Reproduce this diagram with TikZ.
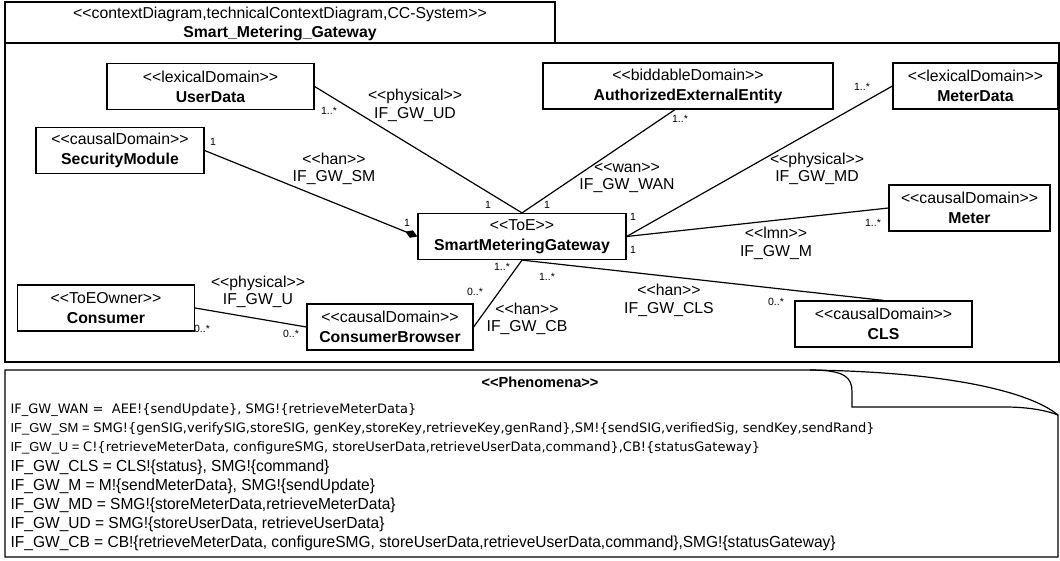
\documentclass[tikz,border=0pt]{standalone}
\usepackage{fontspec}
\setmainfont{Liberation Sans}
\newfontfamily\lucida{DejaVu Sans}
\newfontfamily\narrow[FakeStretch=0.97]{Liberation Sans}
\usetikzlibrary{arrows.meta}
% stereotype brackets, kept apart from the << >> ligature
\newcommand{\stereo}[1]{<\kern0pt<#1>\kern0pt>}

\begin{document}
\begin{tikzpicture}[x=1pt,y=-1pt,line width=1.2pt]
  \useasboundingbox (0,0) rectangle (1060,560);

  % diagram frame and its title
  \draw (5,43) rectangle (1059,362);
  \draw (5,2) rectangle (555,43);
  \node[align=center, font=\fontsize{15.8}{18.5}\selectfont] (title) at (280,24)
    {\stereo{contextDiagram,technicalContextDiagram,CC-System}\\ \textbf{Smart\_Metering\_Gateway}};

  \begin{scope}[every node/.style={draw, align=center, inner sep=0pt, minimum height=46,
      font=\fontsize{15.8}{20}\selectfont}]
    \node[minimum width=207] (ud)    at (210.5,86.5) {\stereo{lexicalDomain}\\ \textbf{UserData}};
    \node[minimum width=290] (aee)   at (688,86)     {\stereo{biddableDomain}\\ \textbf{AuthorizedExternalEntity}};
    \node[minimum width=165] (md)    at (975.5,86)   {\stereo{lexicalDomain}\\ \textbf{MeterData}};
    \node[minimum width=168] (sm)    at (120,150.5)  {\stereo{causalDomain}\\ \textbf{SecurityModule}};
    \node[minimum width=208] (smg)   at (522,236.5)  {\stereo{ToE}\\ \textbf{SmartMeteringGateway}};
    \node[minimum width=161] (meter) at (969.5,208)  {\stereo{causalDomain}\\ \textbf{Meter}};
    \node[minimum width=177] (cons)  at (106,308)    {\stereo{ToEOwner}\\ \textbf{Consumer}};
    \node[minimum width=166] (cb)    at (390,327)    {\stereo{causalDomain}\\ \textbf{ConsumerBrowser}};
    \node[minimum width=177] (cls)   at (883.5,324)  {\stereo{causalDomain}\\ \textbf{CLS}};
  \end{scope}

  % interfaces
  \draw (ud.east) -- (smg.north);
  \draw ([xshift=-13]aee.south) -- (smg.north);
  \draw (md.west) -- (smg.east);
  \draw (meter.west) -- (smg.east);
  \draw[-{Diamond[length=13pt,width=8pt]}] (sm.east) -- (smg.west);
  \draw (cb.east) -- (smg.south);
  \draw (smg.south) -- (cls.north);
  \draw (cons.east) -- (cb.west);

  \begin{scope}[every node/.style={align=center, font=\fontsize{15.8}{17.5}\selectfont}]
    \node (lud)  at (415,105.5) {\stereo{physical}\\IF\_GW\_UD};
    \node (lsm)  at (334,169)   {\stereo{han}\\IF\_GW\_SM};
    \node (lwan) at (627,178)   {\stereo{wan}\\IF\_GW\_WAN};
    \node (lmd)  at (817,169)   {\stereo{physical}\\IF\_GW\_MD};
    \node (lm)   at (776,243.5) {\stereo{lmn}\\IF\_GW\_M};
    \node (lu)   at (258,292)   {\stereo{physical}\\IF\_GW\_U};
    \node (lcb)  at (527,319)   {\stereo{han}\\IF\_GW\_CB};
    \node (lcls) at (669,300.5) {\stereo{han}\\IF\_GW\_CLS};
  \end{scope}

  % multiplicities
  \begin{scope}[every node/.style={font=\fontsize{10.5}{12}\selectfont, inner sep=0pt}]
    \node (m1)  at (329,111) {1..*};
    \node (m2)  at (488,205) {1};
    \node (m3)  at (547,205) {1};
    \node (m4)  at (680,119) {1..*};
    \node (m5)  at (862,87)  {1..*};
    \node (m6)  at (633,217) {1};
    \node (m7)  at (633,250) {1};
    \node (m8)  at (873,223) {1..*};
    \node (m9)  at (213,142) {1};
    \node (m10) at (407,223) {1};
    \node (m11) at (502,267) {1..*};
    \node (m12) at (475,292) {0..*};
    \node (m13) at (547,277) {1..*};
    \node (m14) at (776,302) {0..*};
    \node (m15) at (202,329) {0..*};
    \node (m16) at (291,334) {0..*};
  \end{scope}

  % phenomena note
  \draw (5,370) -- (810,370) .. controls (950,372) and (1030,392) .. (1058,415)
    -- (1058,557) -- (5,557) -- cycle;
  \draw (810,370) .. controls (846,370) and (852,378) .. (852,392) -- (852,407)
    -- (1005,407) .. controls (1030,407) and (1048,411) .. (1058,415);
  \node[font=\fontsize{14.6}{16}\selectfont\bfseries] (phen) at (540,382) {\stereo{Phenomena}};

  \begin{scope}[every node/.style={anchor=west, inner sep=0pt, font=\fontsize{13}{15}\selectfont}]
    \node (p1) at (10,410) {\lucida IF\_GW\_WAN =~~AEE!\{sendUpdate\}, SMG!\{retrieveMeterData\}};
    \node (p2) at (10,429) {IF\_GW\_SM = {\lucida SMG!\{genSIG,verifySIG,storeSIG, genKey,storeKey,retrieveKey,genRand\},SM!\{sendSIG,verifiedSig, sendKey,sendRand\}}};
    \node (p3) at (10,448) {IF\_GW\_U = {\lucida C!\{retrieveMeterData, configureSMG, storeUserData,retrieveUserData,command\},CB!\{statusGateway\}}};
  \end{scope}
  \begin{scope}[every node/.style={anchor=west, inner sep=0pt, font=\fontsize{16}{18}\narrow}]
    \node (p4) at (10,467) {IF\_GW\_CLS = CLS!\{status\}, SMG!\{command\}};
    \node (p5) at (10,486) {IF\_GW\_M = M!\{sendMeterData\}, SMG!\{sendUpdate\}};
    \node (p6) at (10,505) {IF\_GW\_MD = SMG!\{storeMeterData,retrieveMeterData\}};
    \node (p7) at (10,524) {IF\_GW\_UD = SMG!\{storeUserData, retrieveUserData\}};
    \node (p8) at (10,543) {IF\_GW\_CB = CB!\{retrieveMeterData, configureSMG, storeUserData,retrieveUserData,command\},SMG!\{statusGateway\}};
  \end{scope}
\end{tikzpicture}
\end{document}
